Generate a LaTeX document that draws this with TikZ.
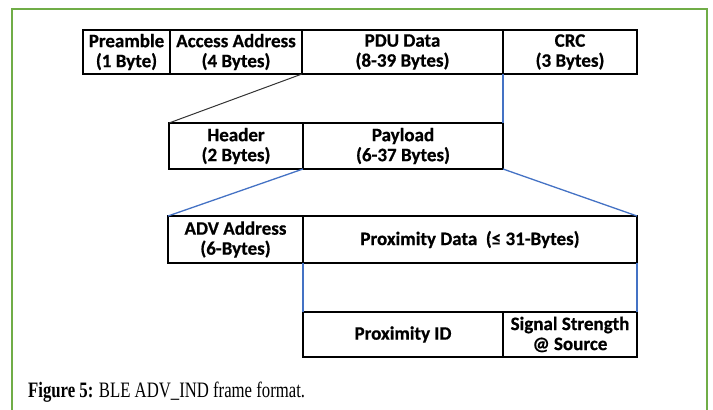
\documentclass[tikz,border=0pt]{standalone}
\usepackage{fontspec}
\setmainfont{Liberation Serif}
\newfontfamily\boxfont[FakeBold=0.6]{Carlito}
\newfontfamily\capfont[FakeStretch=0.76]{Liberation Serif}
\definecolor{linkblue}{HTML}{4472C4}
\definecolor{framegreen}{HTML}{70AD47}
\tikzset{
  fbox/.style={draw=black, line width=1.4pt, inner sep=0pt, outer sep=0pt, anchor=north west,
    align=center, font=\boxfont\bfseries\fontsize{19}{20}\selectfont},
  bluelink/.style={draw=linkblue, line width=1.3pt},
  blacklink/.style={draw=black!80, line width=1pt},
}
\begin{document}
\begin{tikzpicture}[x=1pt,y=-1pt]
\useasboundingbox (0,0) rectangle (713,410);
\draw[framegreen, line width=2pt] (12,412) -- (12,9) -- (707,9) -- (707,412);
% connectors (drawn first so box borders lie on top)
\path (0,0);
% row 1
\node[fbox, minimum width=87pt, minimum height=44pt] (pre) at (83,30) {Preamble\\(1 Byte)};
\node[fbox, minimum width=132pt, minimum height=44pt] (aa) at (170,30) {Access Address\\(4 Bytes)};
\node[fbox, minimum width=201pt, minimum height=44pt] (pdu) at (302,30) {PDU Data\\(8-39 Bytes)};
\node[fbox, minimum width=134pt, minimum height=44pt] (crc) at (503,30) {CRC\\(3 Bytes)};
% row 2
\node[fbox, minimum width=134pt, minimum height=46pt] (hdr) at (169,123) {Header\\(2 Bytes)};
\node[fbox, minimum width=200pt, minimum height=46pt] (pay) at (303,123) {Payload\\(6-37 Bytes)};
% row 3
\node[fbox, minimum width=135pt, minimum height=47pt] (adv) at (168,216) {ADV Address\\(6-Bytes)};
\node[fbox, minimum width=334pt, minimum height=47pt] (prox) at (303,216) {Proximity Data\ \ (≤ 31-Bytes)};
% row 4
\node[fbox, minimum width=200pt, minimum height=45pt] (pid) at (303,312) {Proximity ID};
\node[fbox, minimum width=134pt, minimum height=45pt] (sig) at (503,312) {Signal Strength\\@ Source};
% connectors
\draw[blacklink] (pdu.south west) -- (hdr.north west);
\draw[bluelink] (crc.south west) -- (pay.north east);
\draw[bluelink] (pay.south west) -- (adv.north west);
\draw[bluelink] (pay.south east) -- (prox.north east);
\draw[bluelink] (prox.south west) -- (pid.north west);
\draw[bluelink] (prox.south east) -- (sig.north east);
% caption
\node[anchor=base west, inner sep=0pt, font=\capfont\fontsize{22}{24}\selectfont] (cap) at (28,397) {\textbf{Figure 5:} BLE ADV\_IND frame format.};
\end{tikzpicture}
\end{document}
